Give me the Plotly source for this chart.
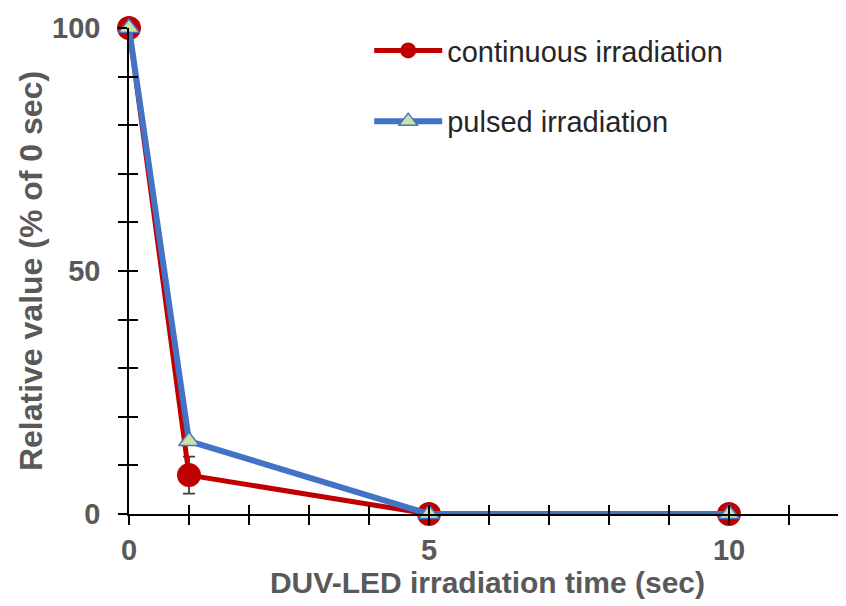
import plotly.graph_objects as go

time_sec = [0, 1, 5, 10]
continuous = [100, 8, 0, 0]
continuous_err = [0, 3.8, 0, 0]
pulsed = [100, 15, 0, 0]

x_ticks = [0, 5, 10]
y_ticks = [0, 50, 100]

FONT = "Arial, 'Liberation Sans', sans-serif"
GRAY = "#595959"

fig = go.Figure()
fig.add_trace(go.Scatter(
    x=time_sec, y=continuous, name="continuous irradiation",
    mode="lines+markers",
    line=dict(color="#C00000", width=5),
    marker=dict(symbol="circle", size=24, color="#C00000"),
    error_y=dict(type="data", array=continuous_err, color="#404040", thickness=1.8, width=6),
    cliponaxis=False, legendgroup="a",
))
fig.add_trace(go.Scatter(
    x=time_sec, y=pulsed, name="pulsed irradiation",
    mode="lines+markers",
    line=dict(color="#4472C4", width=6),
    marker=dict(symbol="triangle-up", size=18, color="#C9E3A6",
                line=dict(color="#4472C4", width=1.5)),
    cliponaxis=False, legendgroup="b",
))
# helper (empty) trace so the overlay axes that draw the inner half of each tick are rendered
fig.add_trace(go.Scatter(x=[], y=[], xaxis="x2", yaxis="y2", showlegend=False, hoverinfo="skip"))

tickfont = dict(family=FONT, size=29, color=GRAY, weight="bold")
xtitlefont = dict(family=FONT, size=30, color=GRAY, weight="bold")
ytitlefont = dict(family=FONT, size=32, color=GRAY, weight="bold")

# the page body has an 8px margin, so the figure is sized/offset to compensate
fig.update_layout(
    width=838, height=598,
    margin=dict(l=121, r=0, t=20, b=92),
    paper_bgcolor="white", plot_bgcolor="white",
    showlegend=True,
    legend=dict(
        x=0.335, y=1.006, xanchor="left", yanchor="top",
        font=dict(family=FONT, size=29, color="#262626"),
        bgcolor="rgba(0,0,0,0)", traceorder="grouped", tracegroupgap=30,
        itemwidth=68,
    ),
    xaxis=dict(
        range=[0, 11.95], tickvals=x_ticks, ticktext=[str(v) for v in x_ticks],
        ticks="outside", ticklen=9, tickwidth=1.5, tickcolor="black",
        minor=dict(dtick=1, ticks="outside", ticklen=9, tickwidth=1.5, tickcolor="black", showgrid=False),
        showline=True, linecolor="black", linewidth=1.5,
        showgrid=False, zeroline=False, automargin=False,
        tickfont=tickfont, ticklabelstandoff=0,
        title=dict(text="DUV-LED irradiation time (sec)", font=xtitlefont, standoff=2),
    ),
    yaxis=dict(
        range=[0, 100], tickvals=y_ticks, ticktext=[str(v) for v in y_ticks],
        ticks="outside", ticklen=9, tickwidth=1.5, tickcolor="black",
        minor=dict(dtick=10, ticks="outside", ticklen=9, tickwidth=1.5, tickcolor="black", showgrid=False),
        showline=True, linecolor="black", linewidth=1.5,
        showgrid=False, zeroline=False, automargin=False,
        tickfont=tickfont, ticklabelstandoff=12,
        title=dict(text="Relative value (% of 0 sec)", font=ytitlefont, standoff=0),
    ),
    xaxis2=dict(
        overlaying="x", anchor="y2", range=[0, 11.95], dtick=1, automargin=False,
        ticks="inside", ticklen=9, tickwidth=1.5, tickcolor="black",
        showticklabels=False, showline=False, showgrid=False, zeroline=False,
    ),
    yaxis2=dict(
        overlaying="y", anchor="x2", range=[0, 100], dtick=10, automargin=False,
        ticks="inside", ticklen=9, tickwidth=1.5, tickcolor="black",
        showticklabels=False, showline=False, showgrid=False, zeroline=False,
    ),
)

fig.write_html("out.html")
